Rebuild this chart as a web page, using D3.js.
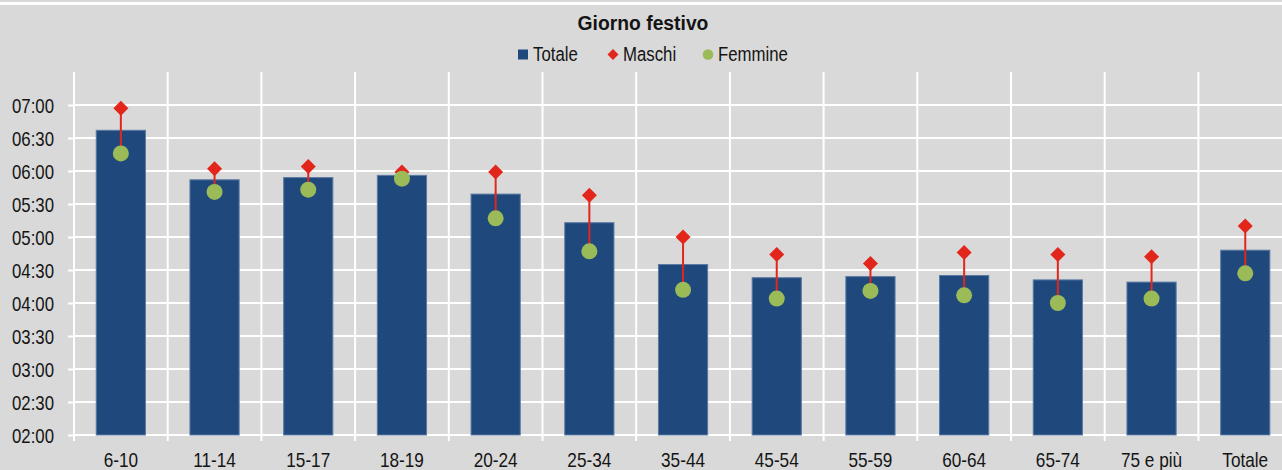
<!DOCTYPE html>
<html>
<head>
<meta charset="utf-8">
<script src="https://cdn.jsdelivr.net/npm/d3@7"></script>
<style>
  body { margin: 0; background: #d9d9d9; }
  svg { display: block; font-family: "Liberation Sans", Arial, sans-serif; }
</style>
</head>
<body>
<svg id="chart" width="1282" height="470"></svg>
<script>
// categories and values (hh:mm)
var categories = ["6-10", "11-14", "15-17", "18-19", "20-24", "25-34", "35-44", "45-54", "55-59", "60-64", "65-74", "75 e più", "Totale"];
var totale  = ["06:37", "05:52", "05:54", "05:56", "05:39", "05:13", "04:35", "04:23", "04:24", "04:25", "04:21", "04:19", "04:48"];
var maschi  = ["06:57", "06:02", "06:04", "05:59", "05:59", "05:38", "05:00", "04:44", "04:36", "04:46", "04:44", "04:42", "05:10"];
var femmine = ["06:16", "05:41", "05:43", "05:53", "05:17", "04:47", "04:12", "04:04", "04:11", "04:07", "04:00", "04:04", "04:27"];
var yTicks  = ["02:00", "02:30", "03:00", "03:30", "04:00", "04:30", "05:00", "05:30", "06:00", "06:30", "07:00"];

function toMin(s) {
    var p = s.split(":");
    return (+p[0]) * 60 + (+p[1]);
}

var data = categories.map(function(c, i) {
    return { cat: c, tot: toMin(totale[i]), m: toMin(maschi[i]), f: toMin(femmine[i]) };
});

var svg = d3.select("#chart");
var W = 1282, H = 470;
var pLeft = 74, pTop = 72, pBottom = 435, pRight = 74 + 13 * 93.7;

var textCol = "#141414";
var barCol = "#1f497d";
var red = "#e3261b";
var green = "#9bbb59";

// narrow-looking text: normal font squeezed horizontally
function label(g, tx, ty, txt, size, sx, anchor, bold) {
    return g.append("text")
        .attr("transform", "translate(" + tx + "," + ty + ") scale(" + sx + ",1)")
        .attr("text-anchor", anchor || "start")
        .attr("font-size", size)
        .attr("font-weight", bold ? "bold" : null)
        .attr("fill", textCol)
        .text(txt);
}

// top white stripe
svg.append("rect").attr("x", 0).attr("y", 2).attr("width", W).attr("height", 3).attr("fill", "#fff");

var x = d3.scaleBand().domain(categories).range([pLeft, pRight]).paddingInner(0.475).paddingOuter(0.2375);
var y = d3.scaleLinear().domain([120, 450]).range([pBottom, pTop]);

// horizontal gridlines
svg.append("g").selectAll("line")
    .data(yTicks.map(toMin))
    .join("line")
    .attr("x1", pLeft).attr("x2", W)
    .attr("y1", function(d) { return y(d); })
    .attr("y2", function(d) { return y(d); })
    .attr("stroke", "#fff").attr("stroke-width", 2);

// vertical gridlines at category boundaries
var bounds = d3.range(categories.length + 1).map(function(i) { return pLeft + i * x.step(); });
svg.append("g").selectAll("line")
    .data(bounds)
    .join("line")
    .attr("x1", function(d) { return d; }).attr("x2", function(d) { return d; })
    .attr("y1", pTop).attr("y2", pBottom + 6)
    .attr("stroke", "#fff").attr("stroke-width", 2);

// y axis
var yAxis = svg.append("g")
    .attr("transform", "translate(" + pLeft + ",0)")
    .call(d3.axisLeft(y).tickValues(yTicks.map(toMin)).tickSize(6)
        .tickFormat(function(d, i) { return yTicks[i]; }));
yAxis.select(".domain").attr("stroke", "#fff").attr("stroke-width", 2).attr("d", "M0," + pTop + "V" + pBottom);
yAxis.selectAll(".tick line").attr("stroke", "#fff").attr("stroke-width", 2);
yAxis.selectAll(".tick text")
    .attr("x", null).attr("dy", null)
    .attr("transform", "translate(-20,7) scale(0.84,1)")
    .attr("fill", textCol).attr("font-size", 20)
    .attr("font-family", "Liberation Sans, Arial, sans-serif");

// x axis line
svg.append("line")
    .attr("x1", pLeft).attr("x2", W)
    .attr("y1", pBottom).attr("y2", pBottom)
    .attr("stroke", "#fff").attr("stroke-width", 2);

// x labels
var xl = svg.append("g");
categories.forEach(function(c) {
    label(xl, x(c) + x.bandwidth() / 2, 467, c, 20, 0.86, "middle");
});

// bars
svg.append("g").selectAll("rect")
    .data(data)
    .join("rect")
    .attr("x", function(d) { return x(d.cat); })
    .attr("y", function(d) { return y(d.tot); })
    .attr("width", x.bandwidth())
    .attr("height", function(d) { return pBottom - y(d.tot); })
    .attr("fill", barCol)
    .attr("stroke", "#5b7aa3").attr("stroke-width", 1);

// connector lines
svg.append("g").selectAll("line")
    .data(data)
    .join("line")
    .attr("x1", function(d) { return x(d.cat) + x.bandwidth() / 2; })
    .attr("x2", function(d) { return x(d.cat) + x.bandwidth() / 2; })
    .attr("y1", function(d) { return y(d.m); })
    .attr("y2", function(d) { return y(d.f); })
    .attr("stroke", red).attr("stroke-width", 2);

// maschi diamonds
function diamond(r) {
    return "M0," + (-r) + "L" + r + ",0L0," + r + "L" + (-r) + ",0Z";
}
svg.append("g").selectAll("path")
    .data(data)
    .join("path")
    .attr("transform", function(d) { return "translate(" + (x(d.cat) + x.bandwidth() / 2) + "," + y(d.m) + ")"; })
    .attr("d", diamond(7.5))
    .attr("fill", red);

// femmine circles
svg.append("g").selectAll("circle")
    .data(data)
    .join("circle")
    .attr("cx", function(d) { return x(d.cat) + x.bandwidth() / 2; })
    .attr("cy", function(d) { return y(d.f); })
    .attr("r", 8)
    .attr("fill", green);

// title
label(svg, 643, 30, "Giorno festivo", 21, 0.92, "middle", true);

// legend
var lg = svg.append("g");
lg.append("rect").attr("x", 518).attr("y", 49.5).attr("width", 10).attr("height", 10).attr("fill", barCol);
label(lg, 533, 61, "Totale", 21, 0.8);
lg.append("path").attr("transform", "translate(613,54.5)").attr("d", diamond(5.5)).attr("fill", red);
label(lg, 623, 61, "Maschi", 21, 0.8);
lg.append("circle").attr("cx", 708).attr("cy", 54.5).attr("r", 5.3).attr("fill", green);
label(lg, 718, 61, "Femmine", 21, 0.8);
</script>
</body>
</html>
